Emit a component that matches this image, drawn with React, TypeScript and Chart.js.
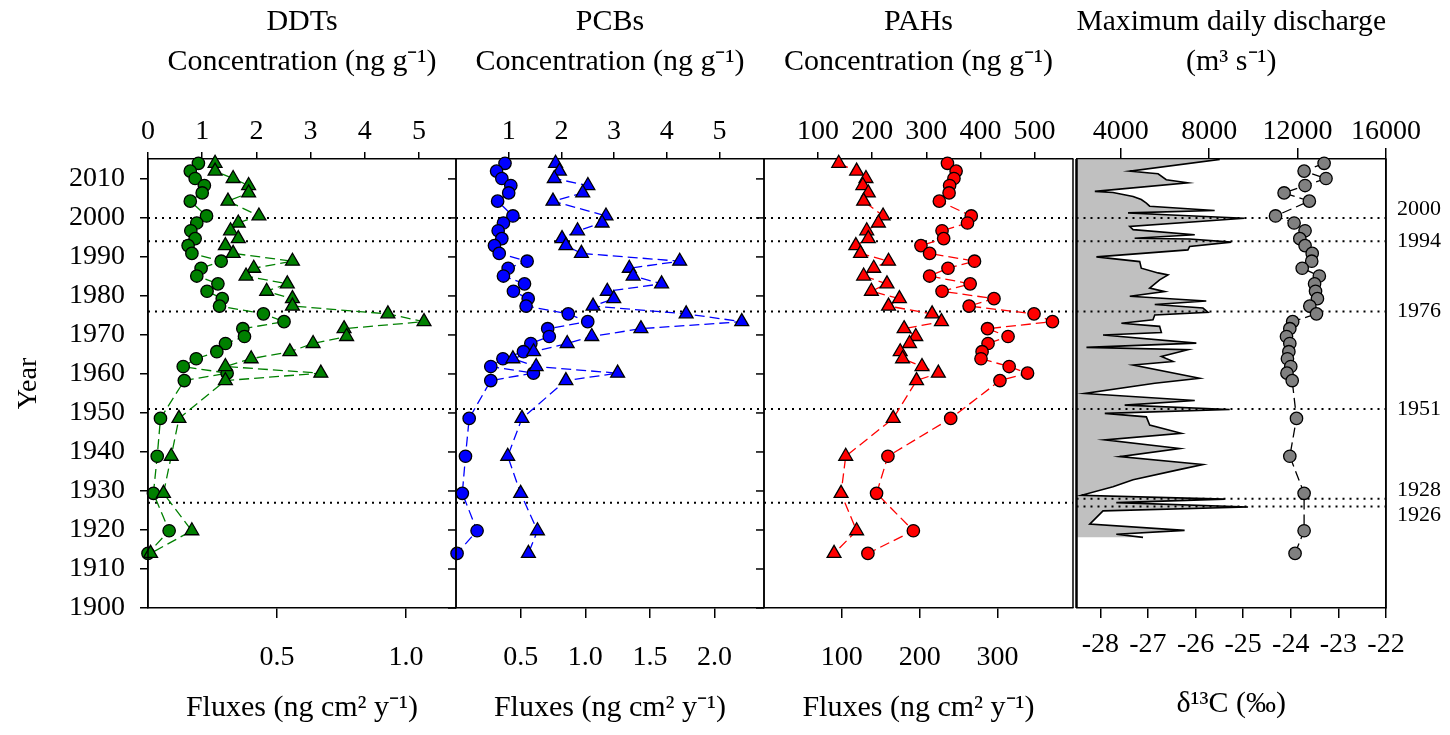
import React, { useEffect, useRef } from 'react';
import { Chart, registerables } from 'chart.js';

Chart.register(...registerables);

// ---------------- data ----------------
const YEARS = [2014, 2012, 2010.1, 2008.3, 2006.4, 2004.3, 2000.5, 1998.7, 1996.7, 1994.7, 1992.9, 1990.9, 1988.9, 1987.1, 1985.1, 1983.1, 1981.2, 1979.3, 1977.4, 1975.4, 1973.4, 1971.6, 1969.6, 1967.8, 1965.7, 1963.9, 1961.9, 1960.2, 1958.3, 1948.6, 1938.9, 1929.4, 1919.8, 1914.0];

const DDT_CONC = [0.93, 0.78, 0.87, 1.04, 1.0, 0.78, 1.08, 0.9, 0.79, 0.87, 0.74, 0.81, 1.35, 0.98, 0.9, 1.29, 1.09, 1.37, 1.32, 2.13, 2.51, 1.75, 1.78, 1.43, 1.27, 0.89, 0.65, 1.46, 0.67, 0.23, 0.17, 0.1, 0.39, 0.0];
const DDT_FLUX = [0.26, 0.26, 0.33, 0.39, 0.39, 0.31, 0.43, 0.35, 0.32, 0.35, 0.3, 0.33, 0.56, 0.41, 0.38, 0.54, 0.46, 0.56, 0.56, 0.93, 1.07, 0.76, 0.77, 0.64, 0.55, 0.4, 0.3, 0.67, 0.3, 0.12, 0.09, 0.06, 0.17, 0.01];

const PCB_CONC = [0.93, 0.77, 0.87, 1.04, 1.0, 0.79, 1.08, 0.9, 0.8, 0.87, 0.73, 0.82, 1.35, 0.99, 0.9, 1.3, 1.09, 1.37, 1.33, 2.13, 2.5, 1.74, 1.77, 1.42, 1.28, 0.89, 0.66, 1.47, 0.66, 0.25, 0.18, 0.12, 0.4, 0.02];
const PCB_FLUX = [0.77, 0.8, 0.76, 1.02, 0.98, 0.75, 1.16, 1.13, 0.94, 0.82, 0.85, 0.97, 1.73, 1.34, 1.37, 1.59, 1.17, 1.22, 1.06, 1.78, 2.21, 1.43, 1.05, 0.86, 0.6, 0.44, 0.62, 1.25, 0.85, 0.51, 0.4, 0.5, 0.63, 0.56];

const PAH_CONC = [339, 355, 351, 343, 342, 324, 383, 376, 329, 332, 290, 306, 389, 340, 306, 381, 329, 425, 379, 499, 533, 413, 451, 414, 403, 401, 453, 487, 436, 345, 229, 208, 276, 192];
const PAH_FLUX = [96, 119, 131, 127, 134, 128, 153, 147, 132, 134, 118, 124, 160, 141, 128, 158, 138, 174, 160, 216, 228, 180, 195, 187, 175, 178, 203, 224, 196, 166, 105, 99, 119, 90];

const D13C = [-23.3, -23.72, -23.26, -23.7, -24.14, -23.61, -24.32, -23.93, -23.7, -23.81, -23.7, -23.55, -23.56, -23.76, -23.4, -23.5, -23.48, -23.44, -23.6, -23.46, -23.96, -24.02, -24.09, -24.02, -24.04, -24.07, -24.0, -24.08, -23.97, -23.88, -24.02, -23.72, -23.72, -23.91];

const DIS_YEARS = [2015.0, 2012.0, 2011.5, 2011.3, 2009.8, 2009.0, 2006.8, 2006.5, 2005.5, 2004.7, 2003.8, 2003.0, 2001.9, 2001.3, 2000.8, 1999.9, 1997.8, 1997.0, 1995.7, 1994.8, 1994.6, 1993.8, 1992.7, 1991.8, 1990.0, 1988.8, 1987.1, 1985.9, 1985.4, 1984.1, 1982.0, 1981.1, 1979.9, 1978.7, 1977.8, 1976.9, 1975.8, 1975.1, 1973.9, 1973.0, 1972.2, 1970.6, 1970.0, 1967.9, 1966.8, 1966.2, 1964.5, 1963.2, 1962.3, 1958.9, 1957.6, 1955.0, 1953.2, 1952.0, 1950.9, 1949.9, 1949.0, 1946.9, 1944.8, 1943.1, 1940.9, 1938.8, 1936.8, 1935.4, 1932.9, 1931.1, 1928.9, 1927.9, 1927.0, 1925.9, 1924.9, 1921.5, 1919.9, 1918.9, 1918.1];
const DIS_VALUES = [8480, 4410, 5310, 5690, 6060, 7040, 2830, 3650, 4560, 4930, 5160, 5310, 8250, 4330, 6060, 9600, 4410, 4560, 7350, 4630, 7120, 9000, 7120, 7040, 2900, 4860, 4930, 5690, 6140, 5760, 5310, 5990, 4410, 7870, 5540, 7720, 7950, 5540, 5460, 4030, 5760, 5840, 3200, 7420, 2450, 7040, 5840, 6370, 4560, 7570, 5540, 2370, 7350, 4180, 8930, 3280, 5160, 5310, 6740, 3280, 6670, 3955, 7720, 6590, 4560, 3650, 2220, 8700, 3800, 9760, 3200, 2600, 6890, 3800, 5010];

const EVENT_YEARS = [2000, 1994, 1976, 1951, 1927];
const EVENT_YEARS_DISCHARGE = [2000, 1994, 1976, 1951, 1928, 1926];
const RIGHT_LABEL_YEARS = [2000, 1994, 1976, 1951, 1928, 1926];

const YEAR_TICKS = [1900, 1910, 1920, 1930, 1940, 1950, 1960, 1970, 1980, 1990, 2000, 2010];
const DDT_CONC_TICKS = [0, 1, 2, 3, 4, 5];
const DDT_FLUX_TICKS = [0.5, 1.0];
const PCB_CONC_TICKS = [1, 2, 3, 4, 5];
const PCB_FLUX_TICKS = [0.5, 1.0, 1.5, 2.0];
const PAH_CONC_TICKS = [100, 200, 300, 400, 500];
const PAH_FLUX_TICKS = [100, 200, 300];
const DIS_TICKS = [4000, 8000, 12000, 16000];
const D13C_TICKS = [-28, -27, -26, -25, -24, -23, -22];

// ---------------- styling / layout ----------------
const SERIF = "'Liberation Serif', 'Times New Roman', serif";
const GREEN = '#008000';
const BLUE = '#0000ff';
const RED = '#ff0000';
const GRAY = '#808080';

const RANGES: Record<string, [number, number]> = {
  xc1: [0, 5.683], xf1: [0, 1.194],
  xc2: [0, 5.845], xf2: [0, 2.382],
  xc3: [0, 571], xf3: [0, 397],
  xc4: [2000, 16000], xf4: [-28.5, -22],
};

const setTicks = (arr: number[]) => (scale: any) => {
  scale.ticks = arr.map((v) => ({ value: v }));
};

const topAxis = (id: string, ticks: number[], weight: number, stackWeight: number, title: string[], tickLen: number, pad: number) => ({
  type: 'linear',
  position: 'top',
  stack: 'top',
  stackWeight,
  weight,
  min: RANGES[id][0],
  max: RANGES[id][1],
  afterBuildTicks: setTicks(ticks),
  afterFit: (s: any) => { s.height = 159; },
  grid: { display: true, drawOnChartArea: false, drawTicks: true, tickLength: tickLen, color: '#000', lineWidth: 1.5 },
  border: { display: true, color: '#000', width: 1.5 },
  ticks: { autoSkip: false, maxRotation: 0, color: '#000', padding: pad, font: { family: SERIF, size: 28 }, callback: (v: number) => String(v) },
  title: { display: true, text: title, color: '#000', font: { family: SERIF, size: 30, lineHeight: 40 / 30 }, padding: { top: 2, bottom: 0 } },
});

const bottomAxis = (id: string, ticks: number[], weight: number, stackWeight: number, title: string, pad: number, titlePad: number, fmt: (v: number) => string) => ({
  type: 'linear',
  position: 'bottom',
  stack: 'bottom',
  stackWeight,
  weight,
  min: RANGES[id][0],
  max: RANGES[id][1],
  afterBuildTicks: setTicks(ticks),
  afterFit: (s: any) => { s.height = 127; },
  grid: { display: true, drawOnChartArea: false, drawTicks: true, tickLength: 10, color: '#000', lineWidth: 1.5 },
  border: { display: true, color: '#000', width: 1.5 },
  ticks: { autoSkip: false, maxRotation: 0, color: '#000', padding: pad, font: { family: SERIF, size: 28 }, callback: fmt },
  title: { display: true, text: title, color: '#000', font: { family: SERIF, size: 30, lineHeight: 1.2 }, padding: { top: 0, bottom: titlePad } },
});

const gapAxis = (position: string, weight: number, h: number) => ({
  type: 'linear',
  position,
  stack: position,
  stackWeight: 3.5,
  weight,
  min: 0,
  max: 1,
  afterFit: (s: any) => { s.height = h; },
  grid: { display: false, drawTicks: false },
  border: { display: false },
  ticks: { display: false },
  title: { display: false },
});

const markerSet = (xAxisID: string, values: number[], style: string, color: string, radius: number) => ({
  type: 'line',
  xAxisID,
  yAxisID: 'y',
  data: values.map((v, i) => ({ x: v, y: YEARS[i] })),
  showLine: false,
  pointStyle: style,
  pointRadius: radius,
  pointBorderWidth: 1.3,
  pointBorderColor: '#000',
  pointBackgroundColor: color,
  borderColor: color,
  backgroundColor: color,
  clip: false,
});

const lineSet = (xAxisID: string, values: number[], color: string) => ({
  type: 'line',
  xAxisID,
  yAxisID: 'y',
  data: values.map((v, i) => ({ x: v, y: YEARS[i] })),
  showLine: true,
  pointRadius: 0,
  borderColor: color,
  borderWidth: 1.3,
  borderDash: [10, 5],
  fill: false,
  tension: 0,
  clip: false,
});

const eventSet = (xAxisID: string, years: number[]) => ({
  type: 'line',
  xAxisID,
  yAxisID: 'y',
  data: years.flatMap((yr) => [
    { x: RANGES[xAxisID][0], y: yr },
    { x: RANGES[xAxisID][1], y: yr },
    { x: null, y: null },
  ]),
  showLine: true,
  spanGaps: false,
  pointRadius: 0,
  borderColor: '#000',
  borderWidth: 2,
  borderDash: [2, 5],
  fill: false,
});

const panelFrame = {
  id: 'panelFrame',
  afterDraw(chart: any) {
    const { ctx, chartArea } = chart;
    const { top, bottom } = chartArea;
    const yScale = chart.scales.y;
    ctx.save();
    ctx.strokeStyle = '#000';
    ['xc1', 'xc2', 'xc3', 'xc4'].forEach((id) => {
      const s = chart.scales[id];
      [s.left, s.right].forEach((px: number, k: number) => {
        ctx.lineWidth = id === 'xc4' && k === 0 ? 2.5 : 1.5;
        ctx.beginPath();
        ctx.moveTo(px, top);
        ctx.lineTo(px, bottom);
        ctx.stroke();
      });
    });
    ctx.lineWidth = 1.5;
    ['xc2', 'xc3'].forEach((id) => {
      const s = chart.scales[id];
      yScale.ticks.forEach((t: any) => {
        const py = yScale.getPixelForValue(t.value);
        ctx.beginPath();
        ctx.moveTo(s.left - 8, py);
        ctx.lineTo(s.left, py);
        ctx.stroke();
      });
    });
    ctx.restore();
  },
};

export default function App() {
  const ref = useRef<HTMLCanvasElement>(null);

  useEffect(() => {
    const datasets: any[] = [
      // markers (drawn on top)
      markerSet('xf1', DDT_FLUX, 'triangle', GREEN, 8),
      markerSet('xc1', DDT_CONC, 'circle', GREEN, 6.2),
      markerSet('xf2', PCB_FLUX, 'triangle', BLUE, 8),
      markerSet('xc2', PCB_CONC, 'circle', BLUE, 6.2),
      markerSet('xf3', PAH_FLUX, 'triangle', RED, 8),
      markerSet('xc3', PAH_CONC, 'circle', RED, 6.2),
      markerSet('xf4', D13C, 'circle', GRAY, 6.2),
      // connecting lines
      lineSet('xf1', DDT_FLUX, GREEN),
      lineSet('xc1', DDT_CONC, GREEN),
      lineSet('xf2', PCB_FLUX, BLUE),
      lineSet('xc2', PCB_CONC, BLUE),
      lineSet('xf3', PAH_FLUX, RED),
      lineSet('xc3', PAH_CONC, RED),
      lineSet('xf4', D13C, '#000'),
      // event reference lines
      eventSet('xc1', EVENT_YEARS),
      eventSet('xc2', EVENT_YEARS),
      eventSet('xc3', EVENT_YEARS),
      eventSet('xc4', EVENT_YEARS_DISCHARGE),
      // discharge (drawn first)
      {
        type: 'line',
        indexAxis: 'y',
        xAxisID: 'xc4',
        yAxisID: 'y',
        data: DIS_VALUES.map((v, i) => ({ x: v, y: DIS_YEARS[i] })),
        borderColor: '#000',
        borderWidth: 1.6,
        backgroundColor: '#c0c0c0',
        fill: { value: 2000 },
        pointRadius: 0,
        tension: 0,
      },
    ];

    const chart = new Chart(ref.current as HTMLCanvasElement, {
      type: 'line',
      data: { datasets },
      plugins: [panelFrame],
      options: {
        responsive: false,
        animation: false,
        devicePixelRatio: 1,
        events: [],
        layout: { padding: 0 },
        plugins: { legend: { display: false }, tooltip: { enabled: false } },
        scales: {
          y: {
            type: 'linear',
            position: 'left',
            min: 1900,
            max: 2015.1,
            afterBuildTicks: setTicks(YEAR_TICKS),
            afterFit: (s: any) => { s.width = 148; },
            grid: { display: true, drawOnChartArea: false, drawTicks: true, tickLength: 8, color: '#000', lineWidth: 1.5 },
            border: { display: true, color: '#000', width: 1.5 },
            ticks: { autoSkip: false, color: '#000', padding: 15, font: { family: SERIF, size: 28 }, callback: (v: number) => String(v) },
            title: { display: true, text: 'Year', color: '#000', font: { family: SERIF, size: 28 }, padding: { top: 12, bottom: 0 } },
          },
          yR: {
            type: 'linear',
            position: 'right',
            min: 1900,
            max: 2015.1,
            afterBuildTicks: setTicks(RIGHT_LABEL_YEARS),
            afterFit: (s: any) => { s.width = 64; },
            grid: { display: false, drawOnChartArea: false, drawTicks: false },
            border: { display: true, color: '#000', width: 1.5 },
            ticks: {
              autoSkip: false,
              color: '#000',
              padding: 11,
              font: { family: SERIF, size: 22, lineHeight: 0.75 },
              callback: (v: number) => {
                if (v === 2000 || v === 1928) return [String(v), ''];
                if (v === 1926) return ['', String(v)];
                return String(v);
              },
            },
          },
          xc1: topAxis('xc1', DDT_CONC_TICKS, 5, 308, ['DDTs', 'Concentration (ng g\u207B\u00B9)'], 7, 4),
          xc2: topAxis('xc2', PCB_CONC_TICKS, 4, 308, ['PCBs', 'Concentration (ng g\u207B\u00B9)'], 7, 4),
          xc3: topAxis('xc3', PAH_CONC_TICKS, 3, 309, ['PAHs', 'Concentration (ng g\u207B\u00B9)'], 7, 4),
          xgT: gapAxis('top', 2, 159),
          xc4: topAxis('xc4', DIS_TICKS, 1, 309.5, ['Maximum daily discharge', '(m\u00B3 s\u207B\u00B9)'], 11, 0),
          xf1: bottomAxis('xf1', DDT_FLUX_TICKS, 1, 308, 'Fluxes (ng cm\u00B2 y\u207B\u00B9)', 23, 9, (v) => v.toFixed(1)),
          xf2: bottomAxis('xf2', PCB_FLUX_TICKS, 2, 308, 'Fluxes (ng cm\u00B2 y\u207B\u00B9)', 23, 9, (v) => v.toFixed(1)),
          xf3: bottomAxis('xf3', PAH_FLUX_TICKS, 3, 309, 'Fluxes (ng cm\u00B2 y\u207B\u00B9)', 23, 9, (v) => String(v)),
          xgB: gapAxis('bottom', 4, 127),
          xf4: bottomAxis('xf4', D13C_TICKS, 5, 309.5, '\u03B4\u00B9\u00B3C (\u2030)', 10, 13, (v) => String(v)),
        },
      } as any,
    } as any);

    return () => chart.destroy();
  }, []);

  return (
    <div style={{ position: 'absolute', left: 0, top: 0, width: 1450, height: 735, background: '#fff' }}>
      <canvas ref={ref} width={1450} height={735} style={{ display: 'block', width: 1450, height: 735 }} />
    </div>
  );
}
